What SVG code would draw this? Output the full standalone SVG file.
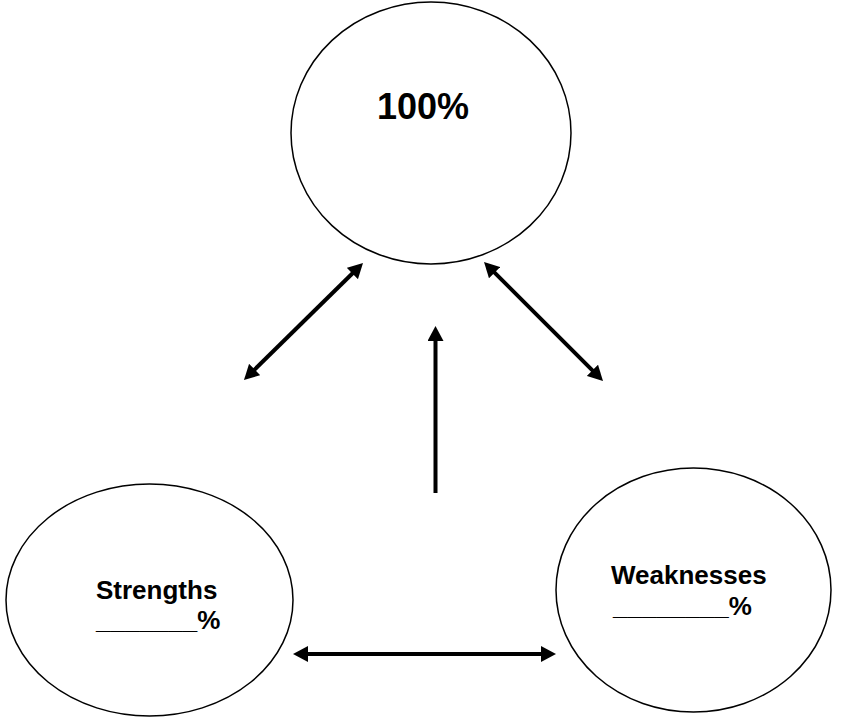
<svg xmlns="http://www.w3.org/2000/svg" width="848" height="717" viewBox="0 0 848 717">
<style>
.node{fill:#fff;stroke:#000;stroke-width:1.5}
.lbl{font-family:"Liberation Sans",Arial,sans-serif;font-weight:bold;fill:#000}
.conn{stroke:#000;stroke-width:4;fill:none}
</style>
<defs>
<marker id="ah" markerUnits="userSpaceOnUse" markerWidth="16" markerHeight="16" refX="5" refY="8" orient="auto-start-reverse" viewBox="0 0 16 16">
<path d="M0,0 L15,8 L0,16 z" fill="#000"/>
</marker>
</defs>
<rect width="848" height="717" fill="#fff"/>
<g id="node-total">
<ellipse class="node" cx="431" cy="133" rx="140" ry="131"/>
<text class="lbl" x="377" y="119" font-size="36">100%</text>
</g>
<g id="node-strengths">
<ellipse class="node" cx="149.5" cy="600" rx="143.5" ry="116"/>
<text class="lbl" x="96" y="599" font-size="26">Strengths</text>
<text class="lbl" x="96" y="629" font-size="26">_______%</text>
</g>
<g id="node-weaknesses">
<ellipse class="node" cx="693.5" cy="590" rx="137.5" ry="122"/>
<text class="lbl" x="611" y="584" font-size="26">Weaknesses</text>
<text class="lbl" x="613" y="615" font-size="26">________%</text>
</g>
<g id="connectors">
<line class="conn" x1="251.1" y1="373" x2="355.9" y2="270" marker-start="url(#ah)" marker-end="url(#ah)"/>
<line class="conn" x1="491.1" y1="269.1" x2="595.9" y2="373.9" marker-start="url(#ah)" marker-end="url(#ah)"/>
<line class="conn" x1="435.5" y1="493" x2="435.5" y2="336" marker-end="url(#ah)"/>
<line class="conn" x1="303" y1="654" x2="546" y2="654" marker-start="url(#ah)" marker-end="url(#ah)"/>
</g>
</svg>
